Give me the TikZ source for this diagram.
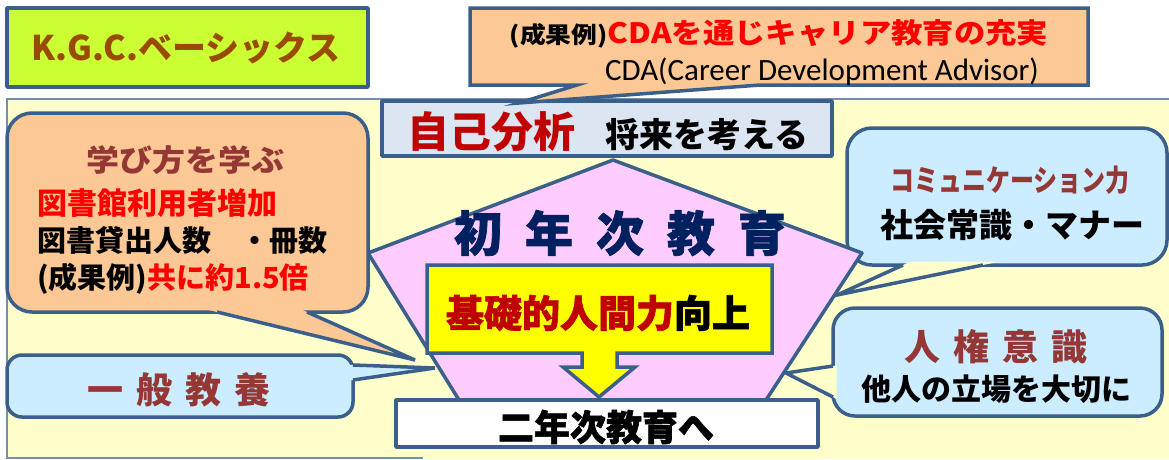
\documentclass[tikz,border=0pt]{standalone}
\usepackage{fontspec}
\setmainfont{Noto Sans CJK JP}
\newfontfamily\jpheavy{Noto Sans CJK JP}[FakeBold=1.5]
\newfontfamily\calfont{Carlito}
\definecolor{bblue}{HTML}{3A5F8B}
\definecolor{limefill}{HTML}{CCFF33}
\definecolor{kgcbrown}{HTML}{994C00}
\definecolor{bgyellow}{HTML}{FFFFCC}
\definecolor{orfill}{HTML}{FCC896}
\definecolor{lbfill}{HTML}{CCECFF}
\definecolor{gbfill}{HTML}{DCE6F2}
\definecolor{pkfill}{HTML}{FFCCFF}
\definecolor{ylfill}{HTML}{FFFF00}
\definecolor{brred}{HTML}{953735}
\definecolor{dred}{HTML}{C00000}
\definecolor{bright}{HTML}{FF0000}
\definecolor{navy}{HTML}{002060}
\newcommand\fs[1]{\fontsize{#1}{#1}\selectfont}
\tikzset{
  bord/.style={draw=bblue, line width=3.5pt, line join=round},
  txt/.style={inner sep=0pt, anchor=center},
}
\begin{document}
\begin{tikzpicture}[x=1pt,y=-1pt]
\useasboundingbox (0,0) rectangle (1169,459);
\fill[white] (0,0) rectangle (1169,459);
% background panel
\fill[bgyellow] (7,99) rectangle (1169,459);
\draw[bblue!70, line width=1.2pt] (1169,99) -- (7,99) -- (7,458) -- (423,458);
% K.G.C. box
\draw[bord, fill=limefill] (7,8) rectangle (368,87);
\node[txt, text=kgcbrown] (kgc) at (186,48) {\fs{34}\bfseries K.G.C.ベーシックス};
% communication callout (below pentagon)
\draw[bord, fill=lbfill, rounded corners=25pt] (847,128) rectangle (1167,265);
\fill[bgyellow] (910.7,261.5) -- (837,295) -- (1000,261.5) -- cycle;
\draw[bord, line join=miter] (903,265) -- (837,295) -- (983,265);
% human rights callout
\draw[bord, fill=lbfill, rounded corners=22pt] (833,308) rectangle (1162,416);
\fill[bgyellow] (836.5,365.5) -- (786,373) -- (836.5,398.8) -- cycle;
\draw[bord, line join=miter] (833,366) -- (786,373) -- (833,397);
% pentagon
\draw[bord, fill=pkfill] (613,160) -- (862,253) -- (766,400) -- (459,400) -- (368,253) -- cycle;
% yellow box with arrow
\draw[bord, fill=ylfill, line join=miter] (427,265) -- (772,265) -- (772,353) -- (617,353) -- (617,367) -- (635,367) -- (599,397) -- (563,367) -- (582,367) -- (582,353) -- (427,353) -- cycle;
% white box
\draw[bord, fill=white] (396,400) rectangle (818,447);
% self analysis box
\draw[bord, fill=gbfill] (382,101) rectangle (832,156);
% CDA callout
\draw[bord, fill=orfill, line join=miter] (470,8) -- (1088,8) -- (1088,85) -- (760,85) -- (519,103) -- (577,85) -- (470,85) -- cycle;
% left orange callout
\draw[bord, fill=orfill, rounded corners=25pt] (7,113) rectangle (368,312);
\fill[orfill] (200.5,308) -- (415,360) -- (298,308) -- cycle;
\draw[bord, line join=miter] (217,312) -- (415,360) -- (307,312);
% left blue callout
\draw[bord, fill=lbfill, rounded corners=15pt] (7,355) rectangle (353,417);
\fill[lbfill] (349,364.85) -- (435,368) -- (349,380.6) -- cycle;
\draw[bord, line join=miter] (353,365) -- (435,368) -- (353,380);
% texts
\node[txt, xscale=1.12] (cda1) at (779,34) {\bfseries\fs{23}(成果例)\textcolor{bright}{\fs{28}CDAを通じキャリア教育の充実}};
\node[txt] (cda2) at (822,72) {\calfont\fs{31}CDA(Career Development Advisor)};
\node[txt] (jiko) at (608,132) {\bfseries\fs{42}\textcolor{dred}{自己分析}\hspace{30pt}\fs{34}将来を考える};
\node[txt, text=brred, xscale=1.1] (manabi) at (185,160) {\bfseries\fs{30}学び方を学ぶ};
\node[txt, anchor=west, text=bright] (tosho) at (37,203) {\bfseries\fs{30}図書館利用者増加};
\node[txt, anchor=west] (kashi) at (37,240) {\bfseries\fs{29}図書貸出人数　・冊数};
\node[txt, anchor=west] (seika) at (37,279) {\bfseries\fs{29}(成果例)\textcolor{bright}{共に約1.5倍}};
\node[txt, text=brred] (ippan) at (179,390) {\bfseries\fs{36}一\hspace{13pt}般\hspace{13pt}教\hspace{13pt}養};
\node[txt, text=navy] (shonen) at (620,233) {\jpheavy\bfseries\fs{48}初\hspace{23pt}年\hspace{23pt}次\hspace{23pt}教\hspace{23pt}育};
\node[txt] (kiso) at (598,313) {\jpheavy\bfseries\fs{38}\textcolor{dred}{基礎的人間力}向上};
\node[txt] (ninen) at (606,427) {\jpheavy\bfseries\fs{36}二年次教育へ};
\node[txt, text=brred, xscale=0.8] (comm) at (1010,180) {\bfseries\fs{30}コミュニケーション力};
\node[txt] (shakai) at (1012,225) {\bfseries\fs{33}社会常識・マナー};
\node[txt, text=brred] (jinken) at (996,347) {\bfseries\fs{36}人\hspace{13pt}権\hspace{13pt}意\hspace{13pt}識};
\node[txt] (tanin) at (996,389) {\bfseries\fs{30}他人の立場を大切に};
\end{tikzpicture}
\end{document}
